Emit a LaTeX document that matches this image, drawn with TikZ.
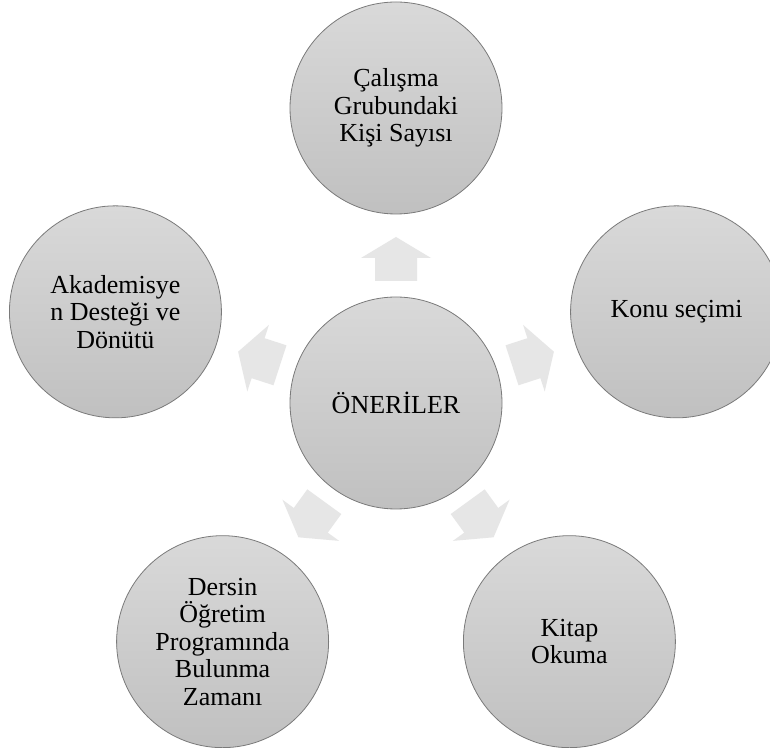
\documentclass[tikz,border=0pt]{standalone}
\usepackage{fontspec}
\setmainfont{Liberation Serif}
\usetikzlibrary{calc}
\begin{document}
\begin{tikzpicture}[x=1pt,y=1pt,
  bubble/.style={circle, minimum size=212pt, inner sep=0pt, draw=circedge, line width=0.8pt,
    top color=circtop, bottom color=circbot, align=center, text=black,
    font=\fontsize{26}{27.5}\selectfont},
  blockarrow/.style={fill=arrowgray, draw=none}]
\definecolor{circtop}{HTML}{D9D9D9}
\definecolor{circbot}{HTML}{C0C0C0}
\definecolor{circedge}{HTML}{7A7A7A}
\definecolor{arrowgray}{HTML}{E6E6E6}
\useasboundingbox (0,0) rectangle (770,747);
\clip (0,0) rectangle (770,747);
\fill[white] (0,0) rectangle (770,747);
\coordinate (C) at (396,344);
\foreach \a in {90,18,162,234,306}{
  \begin{scope}[shift={(C)}, rotate=\a]
    \fill[blockarrow] (122,-21) -- (145,-21) -- (145,-35) -- (166,0) -- (145,35) -- (145,21) -- (122,21) -- cycle;
  \end{scope}
}
\node[bubble] (center) at (C) {ÖNERİLER};
\node[bubble] (top) at ($(C)+(90:295)$) {Çalışma\\Grubundaki\\Kişi Sayısı};
\node[bubble] (right) at ($(C)+(18:295)$) {Konu seçimi};
\node[bubble] (left) at ($(C)+(162:295)$) {Akademisye\\n Desteği ve\\Dönütü};
\node[bubble] (bl) at ($(C)+(234:295)$) {Dersin\\Öğretim\\Programında\\Bulunma\\Zamanı};
\node[bubble] (br) at ($(C)+(306:295)$) {Kitap\\Okuma};
\end{tikzpicture}
\end{document}
